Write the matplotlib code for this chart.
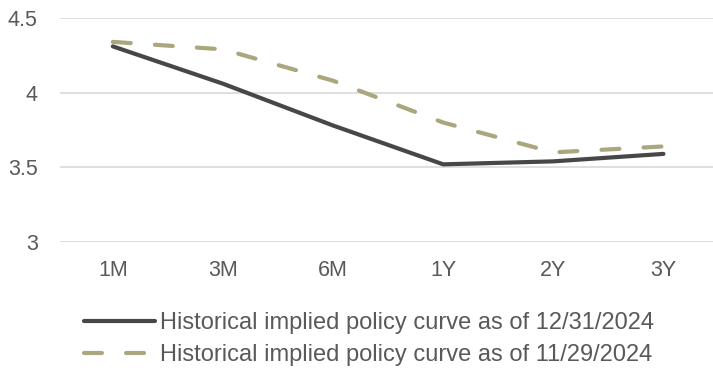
import matplotlib.pyplot as plt

plt.rcParams['font.family'] = ['Liberation Sans', 'DejaVu Sans']

tenors = ["1M", "3M", "6M", "1Y", "2Y", "3Y"]
curve_dec = [4.31, 4.06, 3.78, 3.52, 3.54, 3.59]
curve_nov = [4.34, 4.29, 4.08, 3.80, 3.60, 3.64]

label_dec = "Historical implied policy curve as of 12/31/2024"
label_nov = "Historical implied policy curve as of 11/29/2024"

DARK = '#474747'
KHAKI = '#aaa67d'
GRID = '#d9d9d9'
TEXT = '#595959'


def main():
    fig = plt.figure(figsize=(7.13, 3.78), dpi=100)
    ax = fig.add_axes([60 / 713, 1 - 242 / 378, 1 - 60 / 713, 224 / 378])

    x = range(len(tenors))
    ax.plot(x, curve_dec, color=DARK, lw=3, solid_capstyle='round',
            label=label_dec, zorder=3)
    ax.plot(x, curve_nov, color=KHAKI, lw=3, linestyle=(0, (4.3, 5.8)),
            dash_capstyle='round', label=label_nov, zorder=3)

    ax.set_xlim(-0.48, 5.45)
    ax.set_ylim(3, 4.5)
    ax.set_yticks([3, 3.5, 4, 4.5])
    ax.set_yticklabels(["3", "3.5", "4", "4.5"])
    ax.set_xticks(list(x))
    ax.set_xticklabels(tenors)
    ax.grid(axis='y', color=GRID, lw=1.2)
    ax.set_axisbelow(True)
    for s in ax.spines.values():
        s.set_visible(False)
    ax.tick_params(length=0, labelsize=15.5, colors=TEXT, pad=13)
    ax.tick_params(axis='y', pad=16)

    fig.legend(loc='upper left', bbox_to_anchor=(84 / 713, 1 - 312 / 378),
               frameon=False, fontsize=17, handlelength=3.0,
               handletextpad=0.2, labelspacing=0.42, labelcolor=TEXT,
               borderaxespad=0, borderpad=0)

    fig.savefig('out.png', dpi=100)


if __name__ == "__main__":
    main()
